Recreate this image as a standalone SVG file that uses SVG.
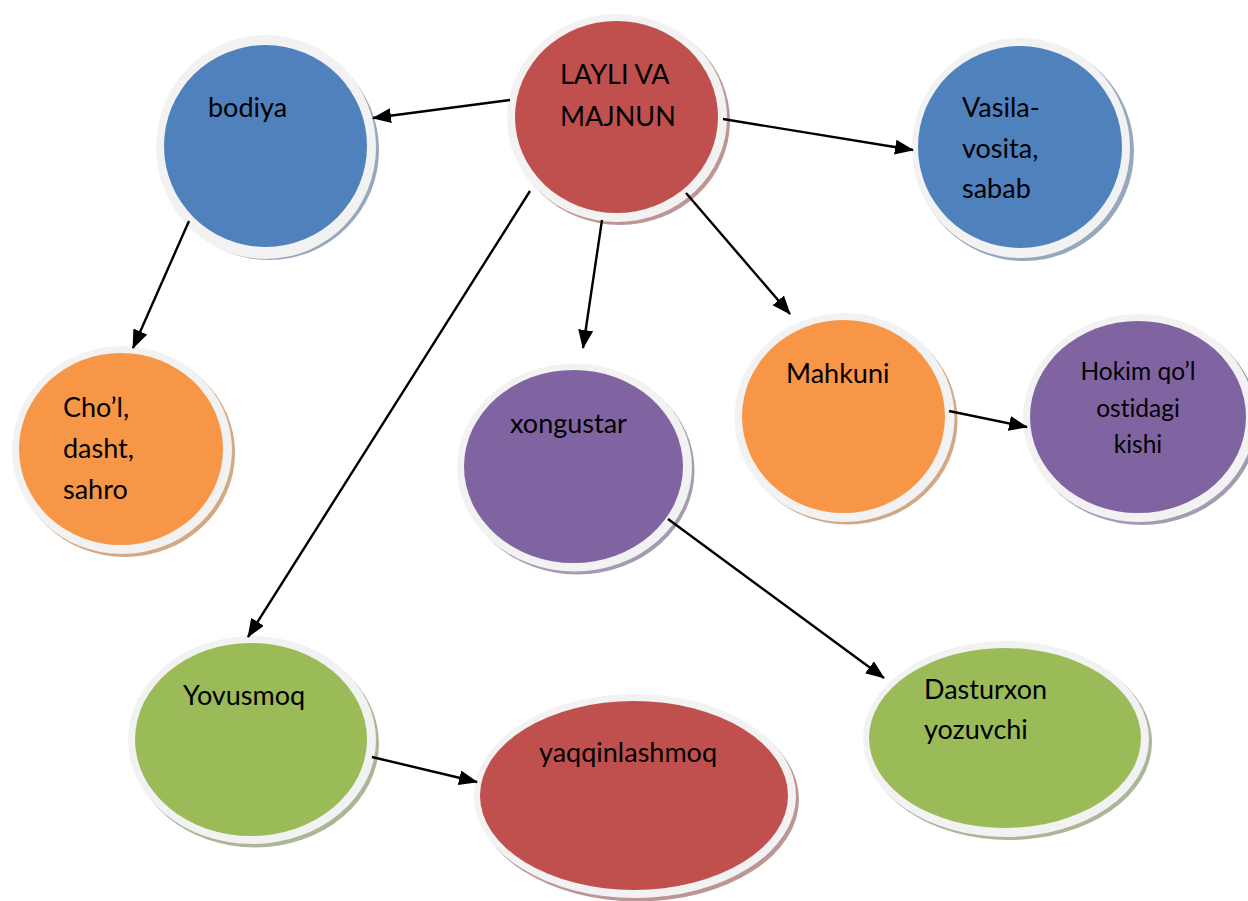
<svg xmlns="http://www.w3.org/2000/svg" width="1248" height="901" viewBox="0 0 1248 901">
<style>
.ring{fill:#F2F2F2}
.t{font-family:Lato,"Liberation Sans",sans-serif;font-size:27px;fill:#000;font-variant-ligatures:none}
.ts{font-family:Lato,"Liberation Sans",sans-serif;font-size:24.5px;fill:#000;text-anchor:middle;font-variant-ligatures:none}
.blue{fill:#4F81BD}.red{fill:#C0504D}.orange{fill:#F79646}.purple{fill:#8064A2}.green{fill:#9BBB59}
.sblue{fill:#97A8BE}.sred{fill:#BC9594}.sorange{fill:#D3A885}.spurple{fill:#A49AB2}.sgreen{fill:#A9B796}
.edge{stroke:#000;stroke-width:2.4;fill:none;marker-end:url(#ah)}
</style>
<defs>
<marker id="ah" markerUnits="userSpaceOnUse" markerWidth="20" markerHeight="16" refX="18" refY="7.5" orient="auto">
<path d="M0,0 L19,7.5 L0,15 Z" fill="#000"/>
</marker>
</defs>
<rect width="1248" height="901" fill="#fff"/>
<g id="n-bodiya">
<ellipse class="sblue" cx="269" cy="150" rx="110" ry="110"/>
<ellipse class="ring" cx="266" cy="147" rx="110" ry="112"/>
<ellipse class="blue" cx="265.5" cy="146" rx="101.5" ry="101"/>
<text class="t" x="208" y="117">bodiya</text>
</g>
<g id="n-layli">
<ellipse class="sred" cx="620" cy="121" rx="110" ry="104"/>
<ellipse class="ring" cx="617" cy="118" rx="110" ry="104"/>
<ellipse class="red" cx="616.5" cy="117" rx="101.5" ry="96"/>
<text class="t" x="560" y="84">LAYLI VA</text>
<text class="t" x="560" y="126">MAJNUN</text>
</g>
<g id="n-vasila">
<ellipse class="sblue" cx="1024" cy="151" rx="110" ry="110"/>
<ellipse class="ring" cx="1021" cy="148" rx="109" ry="110"/>
<ellipse class="blue" cx="1020" cy="147" rx="102" ry="101"/>
<text class="t" x="962" y="117">Vasila-</text>
<text class="t" x="962" y="158">vosita,</text>
<text class="t" x="962" y="198">sabab</text>
</g>
<g id="n-chol">
<ellipse class="sorange" cx="125" cy="453" rx="110" ry="104"/>
<ellipse class="ring" cx="122" cy="450" rx="110" ry="104"/>
<ellipse class="orange" cx="121" cy="449" rx="102" ry="96"/>
<text class="t" x="63" y="417">Cho’l,</text>
<text class="t" x="63" y="458">dasht,</text>
<text class="t" x="63" y="499">sahro</text>
</g>
<g id="n-mahkuni">
<ellipse class="sorange" cx="847.5" cy="420.5" rx="110" ry="104"/>
<ellipse class="ring" cx="844.5" cy="417.5" rx="110" ry="104.5"/>
<ellipse class="orange" cx="843.5" cy="416.5" rx="101.5" ry="96.5"/>
<text class="t" x="786" y="383">Mahkuni</text>
</g>
<g id="n-hokim">
<ellipse class="spurple" cx="1142" cy="421" rx="116" ry="104"/>
<ellipse class="ring" cx="1139" cy="418" rx="116" ry="104"/>
<ellipse class="purple" cx="1138" cy="417" rx="108" ry="96"/>
<text class="ts" x="1138" y="380">Hokim qo’l</text>
<text class="ts" x="1138" y="417">ostidagi</text>
<text class="ts" x="1138" y="453">kishi</text>
</g>
<g id="n-xongustar">
<ellipse class="spurple" cx="577.5" cy="470.5" rx="117" ry="104"/>
<ellipse class="ring" cx="574.5" cy="467.5" rx="117.5" ry="104"/>
<ellipse class="purple" cx="573.5" cy="466.5" rx="109.5" ry="96.5"/>
<text class="t" x="510" y="433">xongustar</text>
</g>
<g id="n-yovusmoq">
<ellipse class="sgreen" cx="255" cy="743.5" rx="124" ry="104"/>
<ellipse class="ring" cx="252" cy="740" rx="124" ry="104"/>
<ellipse class="green" cx="251" cy="739.5" rx="116" ry="96.5"/>
<text class="t" x="183" y="705">Yovusmoq</text>
</g>
<g id="n-dasturxon">
<ellipse class="sgreen" cx="1009" cy="742" rx="143" ry="98"/>
<ellipse class="ring" cx="1006" cy="739" rx="143" ry="98"/>
<ellipse class="green" cx="1005" cy="738" rx="136" ry="90"/>
<text class="t" x="924" y="699">Dasturxon</text>
<text class="t" x="924" y="739">yozuvchi</text>
</g>
<g id="n-yaqqin">
<ellipse class="sred" cx="638" cy="799.5" rx="161" ry="102"/>
<ellipse class="ring" cx="635" cy="796" rx="161" ry="102"/>
<ellipse class="red" cx="634" cy="795.5" rx="154" ry="94.5"/>
<text class="t" x="539" y="762">yaqqinlashmoq</text>
</g>
<g id="connectors">
<line class="edge" x1="510" y1="100" x2="373" y2="118"/>
<line class="edge" x1="723" y1="119" x2="913" y2="150"/>
<line class="edge" x1="602" y1="220" x2="583" y2="348"/>
<line class="edge" x1="686" y1="193" x2="790" y2="314"/>
<line class="edge" x1="530" y1="191" x2="248" y2="637"/>
<line class="edge" x1="189" y1="221" x2="133" y2="348"/>
<line class="edge" x1="949" y1="411" x2="1027" y2="427"/>
<line class="edge" x1="668" y1="519" x2="884" y2="678"/>
<line class="edge" x1="372" y1="757" x2="477" y2="782"/>
</g>
</svg>
